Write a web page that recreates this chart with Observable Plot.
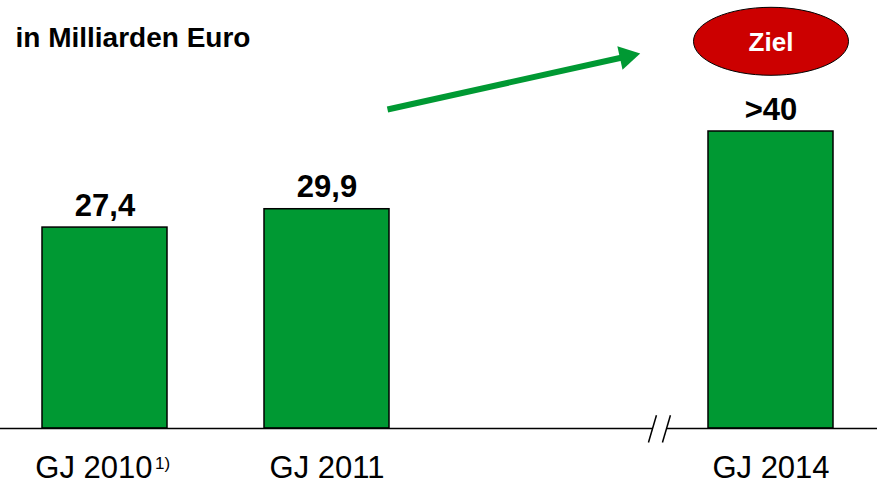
<!DOCTYPE html>
<html><head><meta charset="utf-8">
<script src="https://cdn.jsdelivr.net/npm/d3@7"></script>
<script src="https://cdn.jsdelivr.net/npm/@observablehq/plot@0.6"></script>
<style>body{margin:0;background:#fff} svg{display:block}</style>
</head><body><div id="chart"></div>
<script>
// ---- data ----
const categories = ["GJ 2010", "GJ 2011", "GJ 2014"];
const slots = [0, 1, 3];              // order on the broken axis (slot 2 skipped)
const values = [27.4, 29.9, 40.5];    // bar heights
const valueLabels = ["27,4", "29,9", ">40"];
const footnotes = ["1)", "", ""];
const unitTitle = "in Milliarden Euro";
const goalLabel = "Ziel";
const goal = [{x: 3, y: 52.8}];
const axisBreak = 2.5;
const trendArrow = [{x1: 1.2725, y1: 43.5, x2: 2.35, y2: 50.73}];
const trendTip = [{x: 2.35, y: 50.73}];

const data = categories.map((c, i) => ({category: c, slot: slots[i], value: values[i], label: valueLabels[i], note: footnotes[i]}));
const baseline = [{x1: -0.5, x2: axisBreak - 0.03}, {x1: axisBreak + 0.03, x2: 3.5}];
const slashes = [
  {x1: axisBreak - 0.052, y1: -1.9, x2: axisBreak - 0.016, y2: 1.8},
  {x1: axisBreak + 0.011, y1: -1.9, x2: axisBreak + 0.047, y2: 1.8}
];

const green = "#009933";
const font = "Liberation Sans, Arial, Helvetica, sans-serif";

const ellipseSymbol = {
  draw(ctx, size) {
    const rx = Math.sqrt(size / Math.PI), ry = rx * 34 / 77.5, k = 0.5522847;
    ctx.moveTo(rx, 0);
    ctx.bezierCurveTo(rx, ry * k, rx * k, ry, 0, ry);
    ctx.bezierCurveTo(-rx * k, ry, -rx, ry * k, -rx, 0);
    ctx.bezierCurveTo(-rx, -ry * k, -rx * k, -ry, 0, -ry);
    ctx.bezierCurveTo(rx * k, -ry, rx, -ry * k, rx, 0);
    ctx.closePath();
  }
};

const chart = Plot.plot({
  width: 877,
  height: 484,
  margin: 0,
  style: {fontFamily: font, background: "#fff"},
  x: {type: "linear", domain: [-0.5, 3.5], range: [-6.5, 881.5], axis: null},
  y: {domain: [0, 40.5], range: [428, 131], axis: null},
  marks: [
    Plot.rectY(data, {x1: d => d.slot - 0.5, x2: d => d.slot + 0.5, y: "value",
      insetLeft: 48.5, insetRight: 48.5, fill: green, stroke: "black", strokeWidth: 1.5}),
    Plot.ruleY(baseline, {y: 0, x1: "x1", x2: "x2", stroke: "black", strokeWidth: 1.5}),
    Plot.link(slashes, {x1: "x1", y1: "y1", x2: "x2", y2: "y2", stroke: "black", strokeWidth: 1.5}),
    Plot.text(data, {x: "slot", y: "value", text: "label", lineAnchor: "bottom", dy: -12,
      fontSize: 31, fontWeight: "bold", fill: "black"}),
    Plot.text(data.filter(d => !d.note), {x: "slot", y: 0, text: "category", lineAnchor: "bottom", dy: 49,
      fontSize: 31, fill: "black"}),
    Plot.text(data.filter(d => d.note), {x: "slot", y: 0, text: "category", lineAnchor: "bottom", dy: 49,
      textAnchor: "end", dx: 47.5, fontSize: 31, fill: "black"}),
    Plot.text(data.filter(d => d.note), {x: "slot", y: 0, text: "note", lineAnchor: "bottom", dy: 40,
      textAnchor: "start", dx: 50, fontSize: 17, fill: "black"}),
    Plot.link(trendArrow, {x1: "x1", y1: "y1", x2: "x2", y2: "y2", stroke: green, strokeWidth: 6}),
    Plot.dot(trendTip, {x: "x", y: "y", symbol: "triangle", r: 8.9, fill: green, stroke: "none", rotate: 77.5}),
    Plot.dot(goal, {x: "x", y: "y", symbol: ellipseSymbol, r: 77.5, fill: "#cc0000", stroke: "black", strokeWidth: 1}),
    Plot.text(goal, {x: "x", y: "y", text: () => goalLabel, fill: "white", fontSize: 26, fontWeight: "bold", dy: 1}),
    Plot.text([unitTitle], {frameAnchor: "top-left", text: d => d, textAnchor: "start", lineAnchor: "bottom",
      dx: 15, dy: 46, fontSize: 28, fontWeight: "bold", fill: "black"})
  ]
});
document.getElementById("chart").appendChild(chart);
</script>
</body></html>
